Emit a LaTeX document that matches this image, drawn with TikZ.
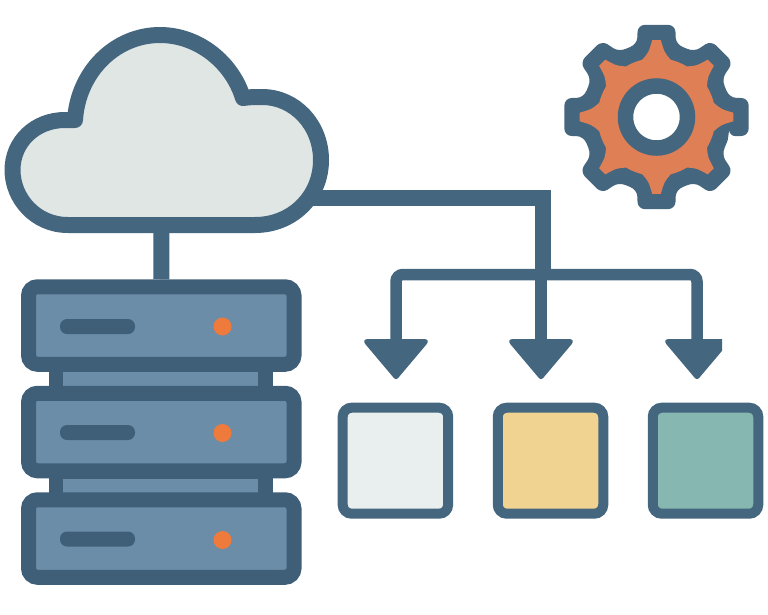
\documentclass[tikz,border=0pt]{standalone}
\definecolor{linkblue}{HTML}{44667F}
\definecolor{rackblue}{HTML}{3F5F79}
\definecolor{rackfill}{HTML}{6C8DA8}
\definecolor{ledorange}{HTML}{EE7A3C}
\definecolor{gearorange}{HTML}{DE7F55}
\definecolor{cloudfill}{HTML}{E0E6E4}
\definecolor{paleBox}{HTML}{E9EEEE}
\definecolor{sandBox}{HTML}{F1D391}
\definecolor{tealBox}{HTML}{86B7B0}
\tikzset{
  rackunit/.style={draw=rackblue,fill=rackfill,line width=15pt,rounded corners=9pt,
    minimum width=265.5pt,minimum height=77.5pt,inner sep=0pt},
  rackslot/.style={fill=rackblue,rounded corners=7pt,minimum width=75pt,minimum height=15pt,inner sep=0pt},
  rackled/.style={circle,fill=ledorange,minimum size=18pt,inner sep=0pt},
  spacerout/.style={fill=rackblue,minimum width=224pt,minimum height=16pt,inner sep=0pt},
  spacerin/.style={fill=rackfill,minimum width=195pt,minimum height=14pt,inner sep=0pt},
  outbox/.style={draw=linkblue,line width=10pt,rounded corners=9pt,
    minimum width=105.5pt,minimum height=106pt,inner sep=0pt},
  trunk/.style={draw=linkblue,line width=16pt},
  branch/.style={draw=linkblue,line width=11.5pt},
  arrowhead/.pic={\fill[linkblue,rounded corners=7pt] (-35,-40) -- (35,-40)
     [rounded corners=3pt] -- (0,1.5) [rounded corners=7pt] -- cycle;}
}
\begin{document}
\begin{tikzpicture}[x=1pt,y=-1pt]
\useasboundingbox (0,0) rectangle (768,614);
% named points
\coordinate (cloudBottom) at (161.5,225);
\coordinate (cloudRight) at (305,198);
\coordinate (trunkElbow) at (543,198);
\coordinate (trunkEnd) at (543,274.5);
\coordinate (busLeft) at (396,274.5);
\coordinate (busRight) at (697,274.5);
\coordinate (busMid) at (541,274.5);
\coordinate (tipLeft) at (396,379);
\coordinate (tipMid) at (541,379);
\coordinate (tipRight) at (697,379);
\coordinate (headLeft) at (396,345);
\coordinate (headMid) at (541,345);
\coordinate (headRight) at (697,345);
% spacers between rack units
\node[spacerout] (spacerA) at (161,379) {};
\node[spacerin] (spacerAin) at (160.5,379) {};
\node[spacerout] (spacerB) at (161,486) {};
\node[spacerin] (spacerBin) at (160.5,486) {};
% rack units
\node[rackunit] (unitA) at (161.25,325.5) {};
\node[rackunit] (unitB) at (161.25,432) {};
\node[rackunit] (unitC) at (161.25,538.5) {};
\node[rackslot] (slotA) at (97.5,326.5) {};
\node[rackslot] (slotB) at (97.5,432.5) {};
\node[rackslot] (slotC) at (97.5,539) {};
\node[rackled] (ledA) at (222.5,326.5) {};
\node[rackled] (ledB) at (222.5,433) {};
\node[rackled] (ledC) at (222.5,540) {};
% connectors
\draw[trunk] (cloudBottom) -- (unitA.north);
\draw[trunk,line join=miter] (cloudRight) -- (trunkElbow) -- (trunkEnd);
\draw[branch] (busMid) -- (headMid);
\draw[branch,rounded corners=7pt] (headLeft) -- (busLeft) -- (busRight) -- (headRight);
\path (tipLeft) pic {arrowhead};
\path (tipMid) pic {arrowhead};
\begin{scope}
  \clip (0,0) rectangle (722,614);
  \path (tipRight) pic {arrowhead};
\end{scope}
% cloud
\draw[draw=linkblue,fill=cloudfill,line width=16pt,line join=round]
  (68,225) .. controls (35,225) and (12.5,198) .. (12.5,170)
  .. controls (12.5,142) and (35,120) .. (65,120) -- (75,120)
  .. controls (78,72) and (115,35) .. (160,35)
  .. controls (198,35) and (232,62) .. (243,98)
  .. controls (250,97) and (255,97) .. (262,97)
  .. controls (295,97) and (321,125) .. (321,160)
  .. controls (321,197) and (292,225) .. (255,225) -- cycle;
% output boxes
\node[outbox,fill=paleBox] (boxA) at (395.4,460.7) {};
\node[outbox,fill=sandBox] (boxB) at (550.5,460.7) {};
\node[outbox,fill=tealBox] (boxC) at (705.5,460.7) {};
% gear
\begin{scope}[shift={(656.5,117)},y=1pt]
  \fill[linkblue,rounded corners=7pt]
    (-15:75)
    \foreach \a/\w in {0/11.5,45/9.5,90/11.5,135/9.5,180/11.5,225/9.5,270/11.5,315/9.5}{
      -- ({\a-15}:75) -- ({\a-\w}:94) -- ({\a+\w}:94) -- ({\a+15}:75) -- ({\a+22.5}:75)
    } -- cycle;
  \fill[gearorange]
    (-14:59)
    \foreach \a in {0,45,...,315}{
      .. controls ({\a-7}:65) .. ({\a-3.2}:77) -- ({\a+3.2}:77)
      .. controls ({\a+7}:65) .. ({\a+14}:59)
      arc[start angle={\a+14},end angle={\a+31},radius=59]
    } -- cycle;
  \node[circle,draw=linkblue,fill=white,line width=15.5pt,minimum size=62pt,inner sep=0pt] (gearHub) at (0,0) {};
\end{scope}
\end{tikzpicture}
\end{document}
